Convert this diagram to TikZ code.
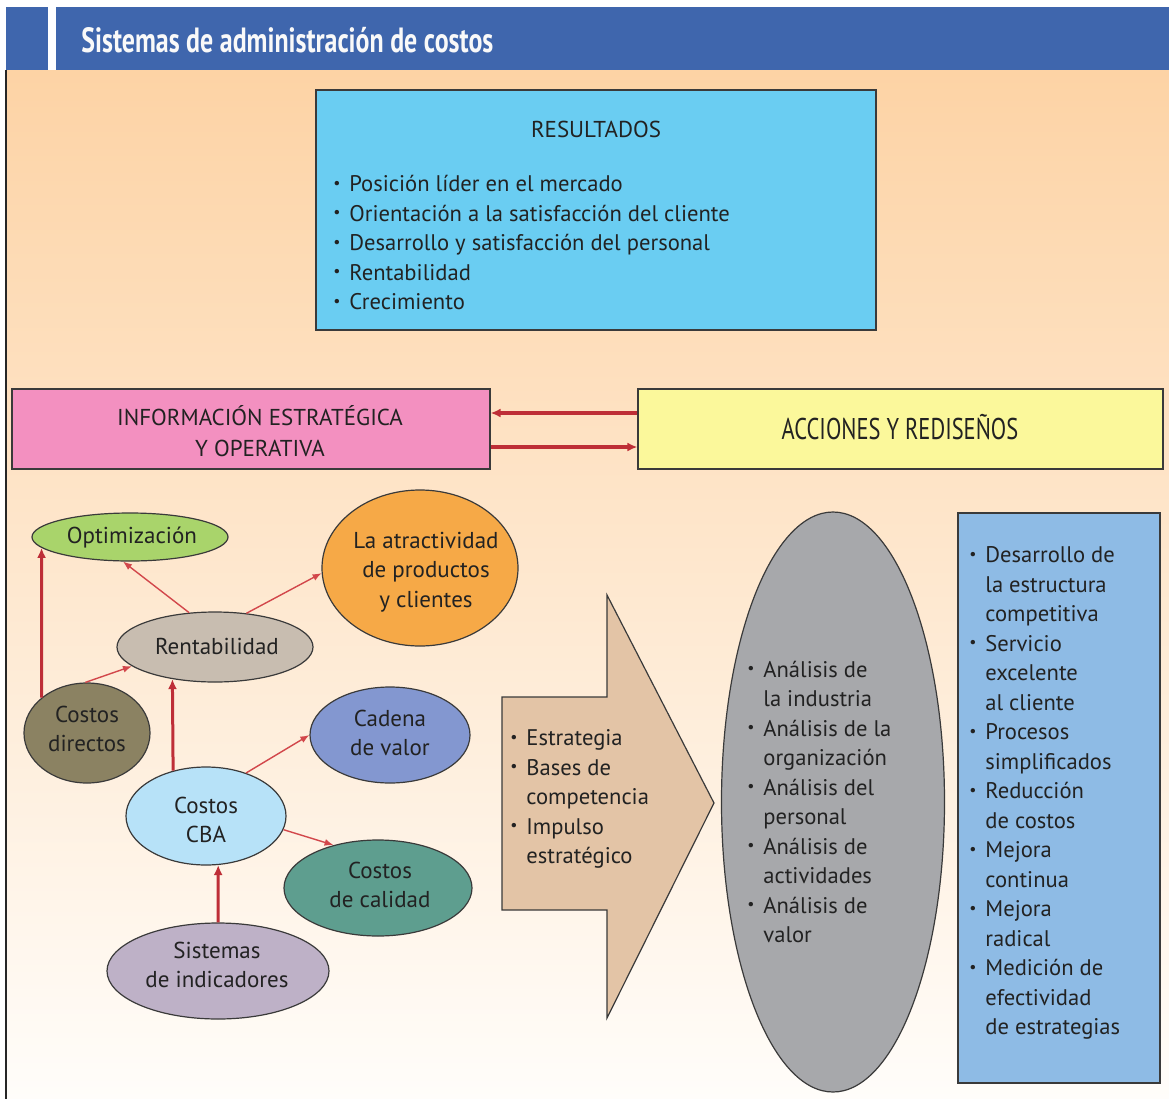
\documentclass[tikz,border=0pt]{standalone}
\usepackage{fontspec}
\setmainfont{PT Sans}
\newfontfamily\condfont[FakeStretch=0.75]{PT Sans}
\newfontfamily\titlefont[FakeStretch=0.74]{PT Sans}
\usetikzlibrary{shapes.geometric,arrows.meta}
\definecolor{hdr}{HTML}{3F66AD}
\definecolor{peachT}{HTML}{FDD3A5}
\definecolor{peachM}{HTML}{FDEEDC}
\definecolor{peachB}{HTML}{FFFDFA}
\definecolor{edge}{HTML}{3A3A3A}
\definecolor{ink}{HTML}{222222}
\definecolor{resblue}{HTML}{6ACDF2}
\definecolor{pinkbox}{HTML}{F390C0}
\definecolor{yelbox}{HTML}{FBF89B}
\definecolor{optg}{HTML}{A9D46B}
\definecolor{attro}{HTML}{F6A947}
\definecolor{rentc}{HTML}{C8BDB0}
\definecolor{cdc}{HTML}{8B8262}
\definecolor{cadc}{HTML}{8397D0}
\definecolor{cbac}{HTML}{B7E2F8}
\definecolor{calc}{HTML}{5E9E8F}
\definecolor{sisc}{HTML}{BEB1C7}
\definecolor{tanc}{HTML}{E3C4A6}
\definecolor{grayc}{HTML}{A7A8AB}
\definecolor{rbox}{HTML}{8EBBE5}
\definecolor{redA}{HTML}{BE2E37}
\definecolor{redB}{HTML}{D2474B}
\newcommand\bul{\makebox[8pt][l]{\raisebox{0.15em}{\scalebox{0.7}{•}}}}
\newcommand\ind{\hspace*{8pt}}
\begin{document}
\begin{tikzpicture}[x=0.5pt,y=-0.5pt,
  box/.style={draw=edge, line width=0.6pt, inner sep=0pt, rectangle},
  ell/.style={ellipse, draw=edge, line width=0.6pt, inner sep=0pt},
  lbl/.style={font=\fontsize{11.5pt}{14.75pt}\selectfont, text=ink, align=center, inner sep=0pt},
  lst/.style={font=\fontsize{11.3pt}{14.75pt}\selectfont, text=ink, align=left, inner sep=0pt, anchor=west},
  captxt/.style={font=\fontsize{11.5pt}{15.5pt}\selectfont, text=ink, align=center, inner sep=0pt},
  thickarr/.style={draw=redA, line width=1.5pt, -{Latex[length=5pt,width=4.5pt]}},
  thinarr/.style={draw=redB, line width=0.7pt, -{Latex[length=4.5pt,width=3.5pt]}}]
\useasboundingbox (0,0) rectangle (1169,1099);
\fill[white] (0,0) rectangle (1169,1099);
% background
\shade[top color=peachT, middle color=peachM, bottom color=peachB] (6,70) rectangle (1169,1099);
\draw[line width=0.8pt, black!85] (6,70) -- (6,1099);
% header
\fill[hdr] (6,7) rectangle (48,70);
\fill[hdr] (56,7) rectangle (1169,70);
\node[anchor=west, inner sep=0pt, text=white!95!gray, font=\titlefont\bfseries\fontsize{17.5pt}{20pt}\selectfont] (title) at (81,40) {Sistemas de administración de costos};
% RESULTADOS
\node[box, fill=resblue, minimum width=280pt, minimum height=120pt] (res) at (596,210) {};
\node[captxt] (restitle) at (596,129) {RESULTADOS};
\node[lst] (reslist) at (333,242.5) {\bul Posición líder en el mercado\\
\bul Orientación a la satisfacción del cliente\\
\bul Desarrollo y satisfacción del personal\\
\bul Rentabilidad\\
\bul Crecimiento};
% info / acciones
\node[box, fill=pinkbox, minimum width=239pt, minimum height=40pt] (info) at (251,429) {};
\node[captxt] (infotxt) at (260,431) {INFORMACIÓN ESTRATÉGICA\\Y OPERATIVA};
\node[box, fill=yelbox, minimum width=262.5pt, minimum height=40pt] (acc) at (900.5,429) {};
\node[captxt, font=\condfont\fontsize{15pt}{18pt}\selectfont] (acctxt) at (900,427) {ACCIONES Y REDISEÑOS};
\draw[thickarr, line width=1.6pt] ([yshift=8pt]acc.west) -- ([yshift=8pt]info.east);
\draw[thickarr, line width=1.6pt] ([yshift=-9pt]info.east) -- ([yshift=-9pt]acc.west);
% ellipses
\node[ell, fill=optg, minimum width=98pt, minimum height=24pt] (opt) at (130,537) {};
\node[lbl] at (132,538) {Optimización};
\node[ell, fill=attro, minimum width=98pt, minimum height=78pt] (attr) at (420,568) {};
\node[lbl] at (426,572) {La atractividad\\de productos\\y clientes};
\node[ell, fill=rentc, minimum width=98pt, minimum height=35pt] (rent) at (215,647) {};
\node[lbl] at (217,646) {Rentabilidad};
\node[ell, fill=cdc, minimum width=63pt, minimum height=50pt] (cd) at (87,733) {};
\node[lbl] at (87,729) {Costos\\directos};
\node[ell, fill=cadc, minimum width=80pt, minimum height=48pt] (cad) at (390,735) {};
\node[lbl] at (390,733) {Cadena\\de valor};
\node[ell, fill=cbac, minimum width=80pt, minimum height=49pt] (cba) at (206,816) {};
\node[lbl] at (206,820) {Costos\\CBA};
\node[ell, fill=calc, minimum width=94pt, minimum height=48pt] (cal) at (378,888) {};
\node[lbl] at (380,885) {Costos\\de calidad};
\node[ell, fill=sisc, minimum width=111pt, minimum height=48pt] (sis) at (218,971) {};
\node[lbl] at (217,965) {Sistemas\\de indicadores};
% connectors
\draw[thickarr] (cd.142) -- (opt.187);
\draw[thinarr] (rent.127) -- (opt.254);
\draw[thinarr] (rent.47) -- (attr.183);
\draw[thinarr] (cd.92) -- (rent.193);
\draw[thickarr] (cba.126.5) -- (rent.217);
\draw[thinarr] (cba.47.6) -- (cad.180);
\draw[thinarr] (cba.350) -- (cal.136);
\draw[thickarr] (sis.90) -- (cba.284);
% big arrow
\filldraw[fill=tanc, draw=edge, line width=0.6pt] (502,697) -- (607,697) -- (607,595) -- (714,803) -- (607,1018) -- (607,910) -- (502,910) -- cycle;
\node[lst] (arrlist) at (510,799) {\bul Estrategia\\
\bul Bases de\\
\ind competencia\\
\bul Impulso\\
\ind estratégico};
% gray ellipse
\node[ell, fill=grayc, minimum width=111.5pt, minimum height=290pt] (anal) at (833,802) {};
\node[lst] (anallist) at (747,802) {\bul Análisis de\\
\ind la industria\\
\bul Análisis de la\\
\ind organización\\
\bul Análisis del\\
\ind personal\\
\bul Análisis de\\
\ind actividades\\
\bul Análisis de\\
\ind valor};
% right box
\node[box, fill=rbox, minimum width=101pt, minimum height=285pt] (rb) at (1059,798) {};
\node[lst] (rblist) at (969,793) {\bul Desarrollo de\\
\ind la estructura\\
\ind competitiva\\
\bul Servicio\\
\ind excelente\\
\ind al cliente\\
\bul Procesos\\
\ind simplificados\\
\bul Reducción\\
\ind de costos\\
\bul Mejora\\
\ind continua\\
\bul Mejora\\
\ind radical\\
\bul Medición de\\
\ind efectividad\\
\ind de estrategias};
\end{tikzpicture}
\end{document}
